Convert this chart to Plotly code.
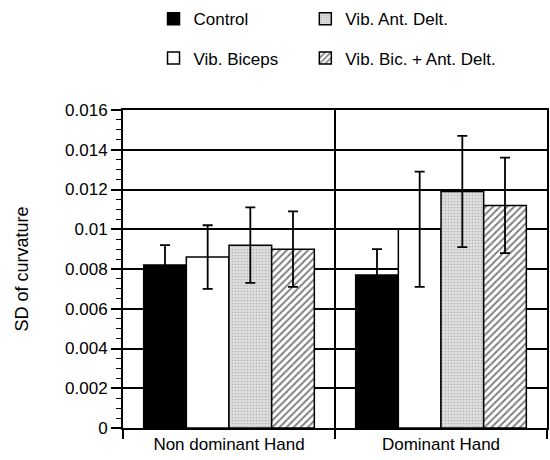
import plotly.graph_objects as go

# Hand conditions on the x axis
hands = ["Non dominant Hand", "Dominant Hand"]

# Mean SD of curvature per condition
control = [0.0082, 0.0077]
vib_biceps = [0.0086, 0.0100]
vib_ant_delt = [0.0092, 0.0119]
vib_bic_ant_delt = [0.0090, 0.0112]

# Error bar half-lengths
control_err = [0.0010, 0.0013]
vib_biceps_err = [0.0016, 0.0029]
vib_ant_delt_err = [0.0019, 0.0028]
vib_bic_ant_delt_err = [0.0019, 0.0024]

y_ticks = [0, 0.002, 0.004, 0.006, 0.008, 0.01, 0.012, 0.014, 0.016]
y_tick_labels = ["0", "0.002", "0.004", "0.006", "0.008", "0.01", "0.012", "0.014", "0.016"]

FONT = "Liberation Sans, Arial, Helvetica, sans-serif"

err_style = dict(type="data", visible=True, color="black", thickness=1.8, width=5)
line_style = dict(color="black", width=1.5)

fig = go.Figure()
fig.add_trace(go.Bar(
    name="Control", x=hands, y=control,
    error_y=dict(array=control_err, **err_style),
    marker=dict(color="black", line=line_style),
    legend="legend", legendgroup="a",
))
fig.add_trace(go.Bar(
    name="Vib. Biceps", x=hands, y=vib_biceps,
    error_y=dict(array=vib_biceps_err, **err_style),
    marker=dict(color="white", line=line_style),
    legend="legend", legendgroup="b",
))
fig.add_trace(go.Bar(
    name="Vib. Ant. Delt.", x=hands, y=vib_ant_delt,
    error_y=dict(array=vib_ant_delt_err, **err_style),
    marker=dict(color="#d4d4d4", line=line_style,
                pattern=dict(shape=".", fgcolor="#8a8a8a", bgcolor="#dedede",
                             size=3, solidity=0.25)),
    legend="legend2", legendgroup="c",
))
fig.add_trace(go.Bar(
    name="Vib. Bic. + Ant. Delt.", x=hands, y=vib_bic_ant_delt,
    error_y=dict(array=vib_bic_ant_delt_err, **err_style),
    marker=dict(color="white", line=line_style,
                pattern=dict(shape="/", fgcolor="black", bgcolor="white",
                             size=5, solidity=0.4)),
    legend="legend2", legendgroup="d",
))

legend_common = dict(
    xanchor="left", yanchor="top", orientation="v",
    font=dict(family=FONT, size=17, color="black"),
    bgcolor="rgba(0,0,0,0)", traceorder="grouped", tracegroupgap=14,
)

fig.update_layout(
    width=550, height=460,
    margin=dict(l=123, r=1, t=110, b=32),
    paper_bgcolor="white", plot_bgcolor="white",
    barmode="group", bargap=0.195, bargroupgap=0,
    font=dict(family=FONT, size=17, color="black"),
    showlegend=True,
    legend=dict(x=0.072, y=1.342, **legend_common),
    legend2=dict(x=0.43, y=1.342, **legend_common),
    xaxis=dict(
        type="category", tickson="boundaries",
        showgrid=True, gridcolor="black", gridwidth=1.5,
        showline=True, linecolor="black", linewidth=2, mirror=True,
        ticks="outside", ticklen=9, tickwidth=1.5, tickcolor="black",
        tickfont=dict(family=FONT, size=17),
    ),
    yaxis=dict(
        range=[0, 0.016],
        tickvals=y_ticks, ticktext=y_tick_labels,
        showgrid=True, gridcolor="black", gridwidth=1.5,
        zeroline=False,
        showline=True, linecolor="black", linewidth=2, mirror=True,
        ticks="outside", ticklen=10, tickwidth=1.5, tickcolor="black",
        tickfont=dict(family=FONT, size=17),
        minor=dict(dtick=0.0005, ticks="outside", ticklen=5, tickwidth=1.2,
                   tickcolor="black", showgrid=False),
        title=dict(text="SD of curvature", font=dict(family=FONT, size=18),
                   standoff=32),
    ),
)

fig.write_html("out.html")
